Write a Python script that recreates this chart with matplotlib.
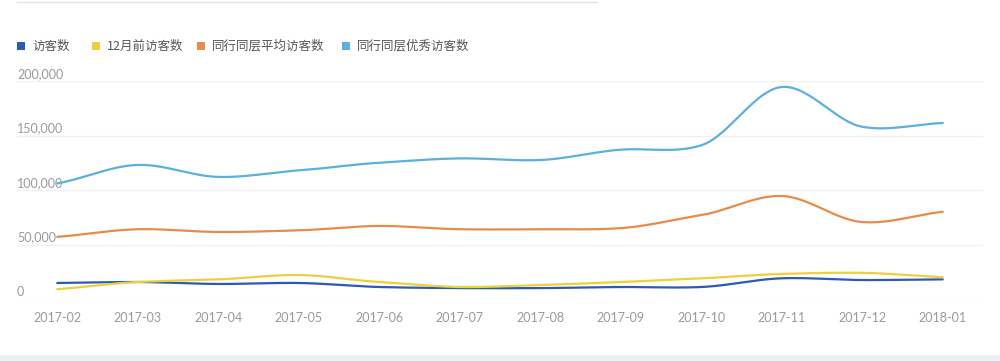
import matplotlib
matplotlib.use("Agg")
import matplotlib.pyplot as plt
import matplotlib.ticker as mticker
from matplotlib.patches import Rectangle
from matplotlib.lines import Line2D
from matplotlib.transforms import ScaledTranslation
import numpy as np

plt.rcParams["font.family"] = ["Lato", "Noto Sans CJK SC", "DejaVu Sans"]

months = ["2017-02", "2017-03", "2017-04", "2017-05", "2017-06", "2017-07",
          "2017-08", "2017-09", "2017-10", "2017-11", "2017-12", "2018-01"]
visitors = [14700, 15600, 13800, 14700, 11000, 10000,
            10000, 11000, 11000, 19000, 17400, 18000]
visitors_prev = [9000, 15600, 18000, 22000, 15600, 11000,
                 12800, 15600, 19000, 23000, 24000, 20000]
peer_avg = [57000, 64000, 61500, 63000, 67000, 64000,
            64000, 65000, 77000, 94500, 70600, 80000]
peer_top = [106000, 123000, 112000, 118000, 125000, 129000,
            127500, 137000, 141000, 194500, 158000, 161500]

series = [
    ("访客数", visitors, "#2b5bb4"),
    ("12月前访客数", visitors_prev, "#ecd03c"),
    ("同行同层平均访客数", peer_avg, "#e88a48"),
    ("同行同层优秀访客数", peer_top, "#5bb0de"),
]


def smooth(y, n=30):
    # Catmull-Rom style curve through the points, like echarts "smooth"
    y = np.asarray(y, dtype=float)
    x = np.arange(len(y), dtype=float)
    m = np.zeros_like(y)
    m[1:-1] = (y[2:] - y[:-2]) / 2
    m[0] = y[1] - y[0]
    m[-1] = y[-1] - y[-2]
    xs, ys = [], []
    for i in range(len(y) - 1):
        t = np.linspace(0, 1, n, endpoint=False)
        h00 = 2 * t**3 - 3 * t**2 + 1
        h10 = t**3 - 2 * t**2 + t
        h01 = -2 * t**3 + 3 * t**2
        h11 = t**3 - t**2
        xs.append(x[i] + t)
        ys.append(h00 * y[i] + h10 * m[i] * 0.8 + h01 * y[i + 1] + h11 * m[i + 1] * 0.8)
    xs.append([x[-1]])
    ys.append([y[-1]])
    return np.concatenate(xs), np.concatenate(ys)


fig = plt.figure(figsize=(10, 3.61), dpi=100)
ax = fig.add_axes([0.017, 1 - 299 / 361, 0.966, (299 - 81) / 361])

for name, vals, color in series:
    xs, ys = smooth(vals)
    ax.plot(xs, ys, color=color, linewidth=1.6, clip_on=False,
            solid_capstyle="round")

ax.set_xlim(-0.5, len(months) - 0.5)
ax.set_ylim(0, 200000)
ax.set_xticks(range(len(months)))
ax.set_xticklabels(months)
ax.set_yticks([0, 50000, 100000, 150000, 200000])
ax.yaxis.set_major_formatter(mticker.FuncFormatter(lambda v, _: f"{v:,.0f}"))
ax.grid(axis="y", color="#f0f1f3", linewidth=1)
ax.set_axisbelow(True)
for s in ax.spines.values():
    s.set_visible(False)
ax.tick_params(axis="both", length=0, labelsize=9, labelcolor="#9a9a9a")
ax.tick_params(axis="x", pad=9)
ax.tick_params(axis="y", pad=0)
off = ScaledTranslation(0, 6 / 72, fig.dpi_scale_trans)
for lab in ax.get_yticklabels():
    lab.set_horizontalalignment("left")
    lab.set_transform(lab.get_transform() + off)

# legend drawn by hand, echarts style
leg_x = [17, 92, 197, 342]
for (name, vals, color), lx in zip(series, leg_x):
    fig.patches.append(Rectangle((lx / 1000, 1 - 50 / 361), 8 / 1000, 8 / 361,
                                 transform=fig.transFigure, facecolor=color,
                                 edgecolor="none"))
    fig.text((lx + 15) / 1000, 1 - 46 / 361, name, fontsize=9, color="#555555",
             va="center", ha="left",
             family=["Noto Sans CJK SC", "DejaVu Sans"])

# page remnants: top border and bottom band
fig.add_artist(Line2D([17 / 1000, 597 / 1000], [1 - 2 / 361, 1 - 2 / 361],
                      transform=fig.transFigure, color="#e3e3e6", linewidth=1))
fig.patches.append(Rectangle((0, 0), 1, 6 / 361, transform=fig.transFigure,
                             facecolor="#eef0f3", edgecolor="none"))

fig.savefig("out.png", dpi=100, facecolor="white")
plt.close(fig)
